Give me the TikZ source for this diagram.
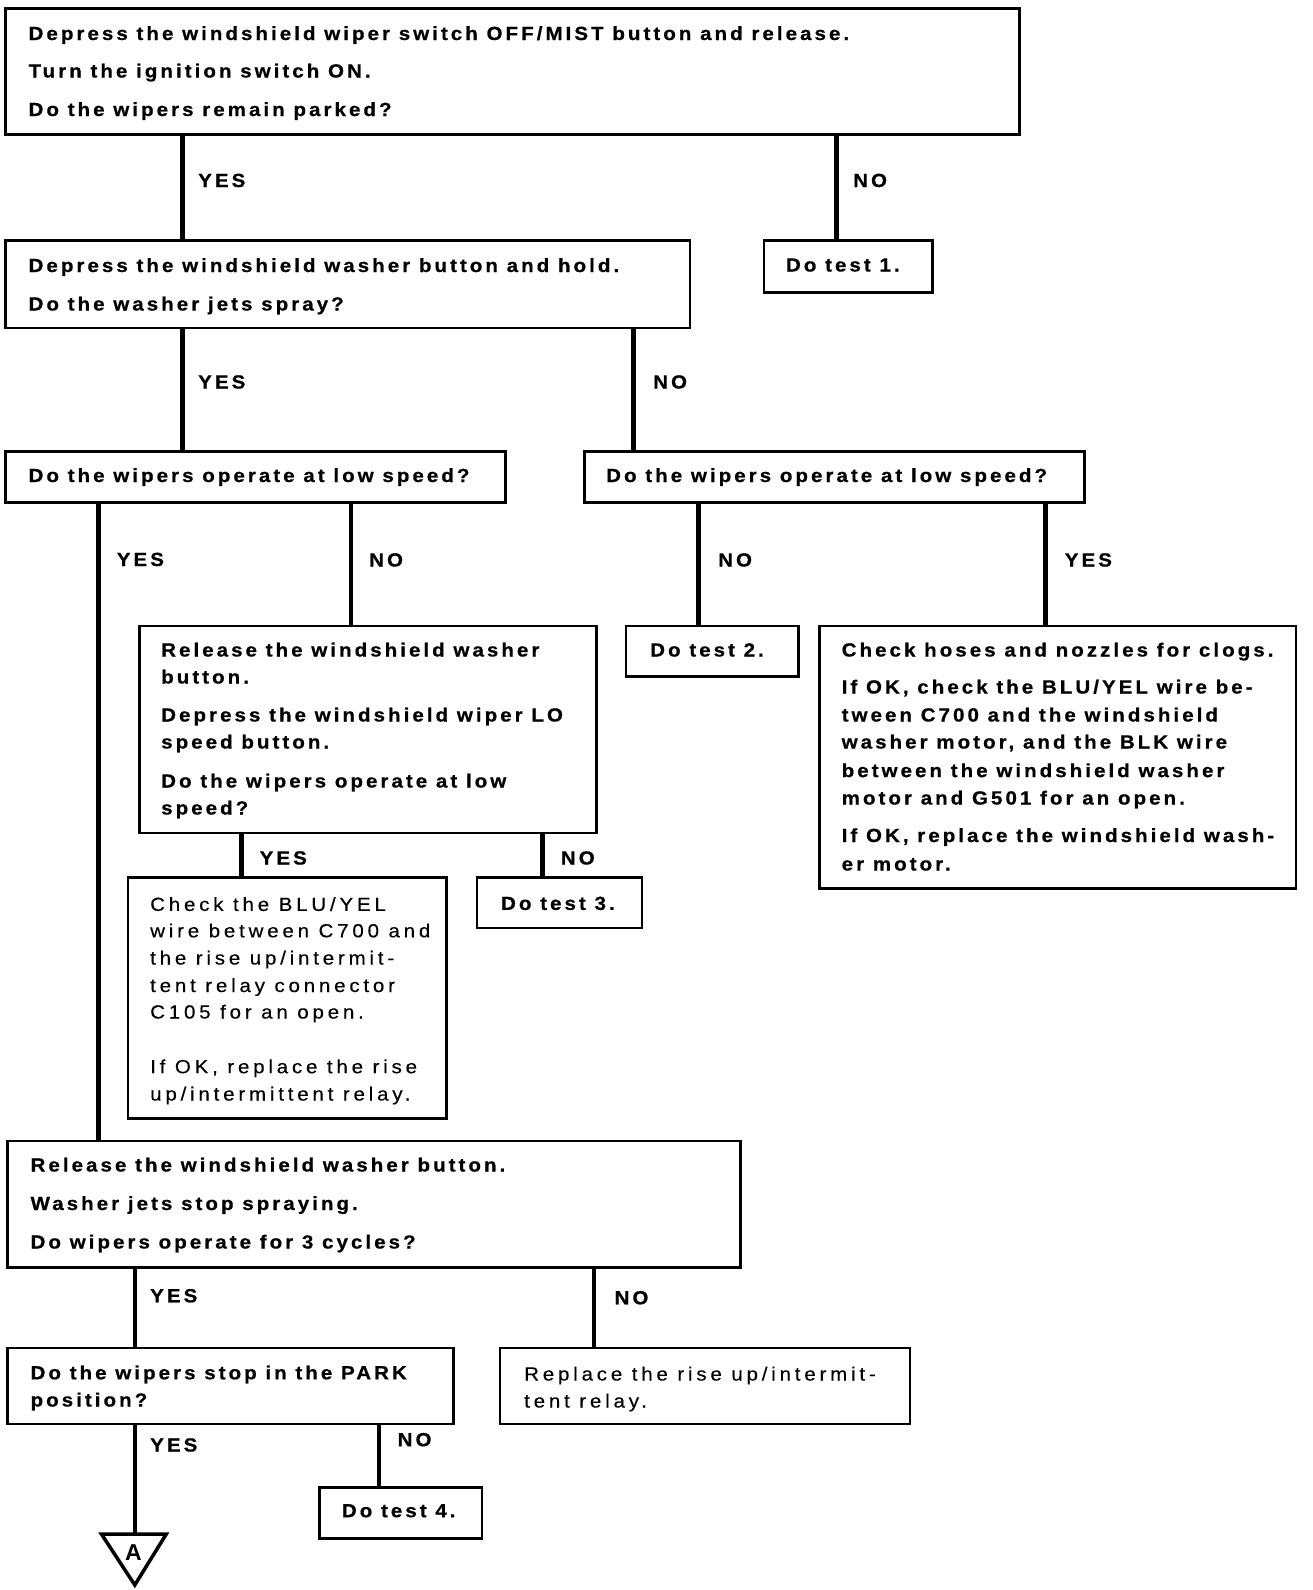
\documentclass[tikz,border=0pt]{standalone}
\usepackage{fontspec}
\setmainfont{Liberation Sans}
\newfontfamily\bfont{Liberation Sans}[LetterSpace=16, FakeStretch=1.08, FakeBold=0.7]
\newfontfamily\rfont{Liberation Sans}[LetterSpace=20, FakeStretch=1.08, FakeBold=0.3]
\begin{document}
\begin{tikzpicture}[x=1pt,y=-1pt,
  box/.style={draw, line width=2.6pt, inner sep=0pt, anchor=north west},
  conn/.style={line width=4.5pt},
  bt/.style={font=\bfont\bfseries\fontsize{19}{22}\selectfont, inner sep=0pt, anchor=base west},
  rt/.style={font=\rfont\fontsize{19}{22}\selectfont, inner sep=0pt, anchor=base west},
  lbl/.style={bt}]
\useasboundingbox (0,0) rectangle (1312,1590);
% column coordinates
\coordinate (xa) at (182.5,0);
\coordinate (xb) at (836.5,0);
\coordinate (xc) at (633.7,0);
\coordinate (xd) at (98.3,0);
\coordinate (xe) at (351,0);
\coordinate (xf) at (698.6,0);
\coordinate (xg) at (1045.3,0);
\coordinate (xh) at (241.3,0);
\coordinate (xi) at (542.4,0);
\coordinate (xj) at (134.8,0);
\coordinate (xk) at (594,0);
\coordinate (xl) at (379.2,0);
% boxes
\node[box, minimum width=1014pt, minimum height=126pt] (b1) at (4,7.1) {};
\node[box, minimum width=168.5pt, minimum height=52pt] (t1) at (762.5,239) {};
\node[box, minimum width=684.5pt, minimum height=87.5pt] (b2) at (4,239) {};
\node[box, minimum width=500pt, minimum height=51pt] (b3) at (4,450) {};
\node[box, minimum width=500pt, minimum height=51pt] (b4) at (583,450) {};
\node[box, minimum width=457pt, minimum height=207pt] (b5) at (138,624.5) {};
\node[box, minimum width=318.3pt, minimum height=241.3pt] (b6) at (126.7,876) {};
\node[box, minimum width=165.3pt, minimum height=50.7pt] (t3) at (475.5,876) {};
\node[box, minimum width=172.5pt, minimum height=50.5pt] (t2) at (624.5,624.5) {};
\node[box, minimum width=476.7pt, minimum height=262.5pt] (b8) at (818,624.5) {};
\node[box, minimum width=733pt, minimum height=126.8pt] (b7) at (6,1139.6) {};
\node[box, minimum width=446pt, minimum height=76pt] (b9) at (6,1346.5) {};
\node[box, minimum width=409.7pt, minimum height=76pt] (b10) at (498.8,1346.5) {};
\node[box, minimum width=162.2pt, minimum height=50.6pt] (t4) at (318.4,1486.4) {};
% triangle
\coordinate (tri) at (134.8,1534);
\draw[line width=3.5pt, line join=miter] (101.4,1534) -- (166.3,1534) -- (134.8,1585) -- cycle;
\node[font=\bfseries\fontsize{23}{26}\selectfont, inner sep=0pt] (triA) at (133.5,1552.5) {A};
% connectors
\draw[conn] (b1.south -| xa) -- (b2.north -| xa);
\draw[conn] (b1.south -| xb) -- (t1.north -| xb);
\draw[conn] (b2.south -| xa) -- (b3.north -| xa);
\draw[conn] (b2.south -| xc) -- (b4.north -| xc);
\draw[conn] (b3.south -| xd) -- (b7.north -| xd);
\draw[conn] (b3.south -| xe) -- (b5.north -| xe);
\draw[conn] (b4.south -| xf) -- (t2.north -| xf);
\draw[conn] (b4.south -| xg) -- (b8.north -| xg);
\draw[conn] (b5.south -| xh) -- (b6.north -| xh);
\draw[conn] (b5.south -| xi) -- (t3.north -| xi);
\draw[conn] (b7.south -| xj) -- (b9.north -| xj);
\draw[conn] (b7.south -| xk) -- (b10.north -| xk);
\draw[conn] (b9.south -| xj) -- (tri);
\draw[conn] (b9.south -| xl) -- (t4.north -| xl);
% labels
\node[lbl] (l1) at (198,187) {YES};
\node[lbl] (l2) at (853,187) {NO};
\node[lbl] (l3) at (198,388.5) {YES};
\node[lbl] (l4) at (653,388.5) {NO};
\node[lbl] (l5) at (116.6,566) {YES};
\node[lbl] (l6) at (369,566.5) {NO};
\node[lbl] (l7) at (718,566.5) {NO};
\node[lbl] (l8) at (1064.6,566.5) {YES};
\node[lbl] (l9) at (259.5,864.5) {YES};
\node[lbl] (l10) at (560.7,864.5) {NO};
\node[lbl] (l11) at (150,1302.3) {YES};
\node[lbl] (l12) at (614.4,1304.3) {NO};
\node[lbl] (l13) at (150,1451.5) {YES};
\node[lbl] (l14) at (397.5,1446.2) {NO};
% texts
\node[bt] (b1a) at (28.4,40) {Depress the windshield wiper switch OFF/MIST button and release.};
\node[bt] (b1b) at (28.4,77.5) {Turn the ignition switch ON.};
\node[bt] (b1c) at (28.4,116) {Do the wipers remain parked?};
\node[bt] (t1a) at (785.8,271.5) {Do test 1.};
\node[bt] (b2a) at (28.4,272) {Depress the windshield washer button and hold.};
\node[bt] (b2b) at (28.4,310.5) {Do the washer jets spray?};
\node[bt] (b3a) at (28.4,482) {Do the wipers operate at low speed?};
\node[bt] (b4a) at (606,482) {Do the wipers operate at low speed?};
\node[bt] (b5a) at (161,656.5) {Release the windshield washer};
\node[bt] (b5b) at (161,683.5) {button.};
\node[bt] (b5c) at (161,721.5) {Depress the windshield wiper LO};
\node[bt] (b5d) at (161,748.5) {speed button.};
\node[bt] (b5e) at (161,787.5) {Do the wipers operate at low};
\node[bt] (b5f) at (161,814.5) {speed?};
\node[rt] (b6a) at (150,910.9) {Check the BLU/YEL};
\node[rt] (b6b) at (150,937.3) {wire between C700 and};
\node[rt] (b6c) at (150,964.5) {the rise up/intermit-};
\node[rt] (b6d) at (150,992) {tent relay connector};
\node[rt] (b6e) at (150,1018.5) {C105 for an open.};
\node[rt] (b6f) at (150,1073.2) {If OK, replace the rise};
\node[rt] (b6g) at (150,1100.5) {up/intermittent relay.};
\node[bt] (t3a) at (500.9,909.9) {Do test 3.};
\node[bt] (t2a) at (650,656.5) {Do test 2.};
\node[bt] (b8a) at (841.5,656.5) {Check hoses and nozzles for clogs.};
\node[bt] (b8b) at (841.5,693.5) {If OK, check the BLU/YEL wire be-};
\node[bt] (b8c) at (841.5,721.5) {tween C700 and the windshield};
\node[bt] (b8d) at (841.5,748.5) {washer motor, and the BLK wire};
\node[bt] (b8e) at (841.5,777.1) {between the windshield washer};
\node[bt] (b8f) at (841.5,804.5) {motor and G501 for an open.};
\node[bt] (b8g) at (841.5,842) {If OK, replace the windshield wash-};
\node[bt] (b8h) at (841.5,870.5) {er motor.};
\node[bt] (b7a) at (30.4,1171.5) {Release the windshield washer button.};
\node[bt] (b7b) at (30.4,1210) {Washer jets stop spraying.};
\node[bt] (b7c) at (30.4,1248.5) {Do wipers operate for 3 cycles?};
\node[bt] (b9a) at (30.4,1379.3) {Do the wipers stop in the PARK};
\node[bt] (b9b) at (30.4,1406.5) {position?};
\node[rt] (b10a) at (524,1380.5) {Replace the rise up/intermit-};
\node[rt] (b10b) at (524,1407.5) {tent relay.};
\node[bt] (t4a) at (341.7,1517.2) {Do test 4.};
\end{tikzpicture}
\end{document}
